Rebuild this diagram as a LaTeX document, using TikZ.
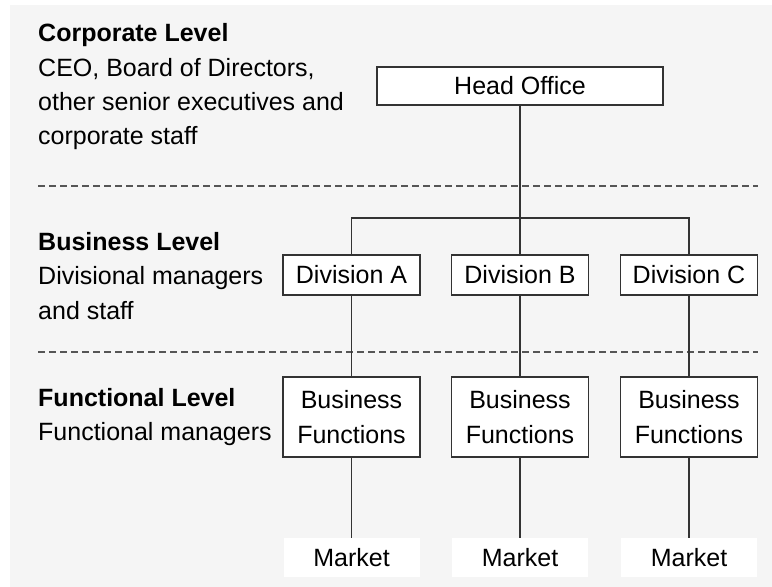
\documentclass[tikz,border=0pt]{standalone}
\usepackage{fontspec}
\setmainfont{Liberation Sans}
\definecolor{bgc}{HTML}{F5F5F5}
\definecolor{linec}{HTML}{333333}
\definecolor{dashc}{HTML}{555555}
\begin{document}
\begin{tikzpicture}[x=1pt,y=-1pt,
  every node/.style={font=\fontsize{25}{34.5}\selectfont, text=black},
  lvl/.style={anchor=base west, inner sep=0pt},
  lvlb/.style={lvl, font=\fontsize{25}{34.5}\selectfont\bfseries},
  box/.style={draw=linec, line width=1.6pt, fill=white, minimum width=137pt, inner sep=0pt, align=center},
  divbox/.style={box, minimum height=40pt},
  fnbox/.style={box, minimum height=80pt},
  mkbox/.style={fill=white, minimum width=136pt, minimum height=39pt, inner sep=0pt},
  conn/.style={draw=linec, line width=1.6pt},
  sep/.style={draw=dashc, line width=1.3pt, dash pattern=on 7pt off 4pt}]
\useasboundingbox (0,0) rectangle (772,587);
\fill[bgc] (10,5) rectangle (772,587);
% separators
\coordinate (s1a) at (38,186); \coordinate (s1b) at (758,186);
\coordinate (s2a) at (38,352); \coordinate (s2b) at (758,352);
\draw[sep] (s1a) -- (s1b);
\draw[sep] (s2a) -- (s2b);
% left texts
\node[lvlb] (c1) at (38,41) {Corporate Level};
\node[lvl] (c2) at (38,76) {CEO, Board of Directors,};
\node[lvl] (c3) at (38,110) {other senior executives and};
\node[lvl] (c4) at (38,144) {corporate staff};
\node[lvlb] (b1) at (38,250) {Business Level};
\node[lvl] (b2) at (38,284) {Divisional managers};
\node[lvl] (b3) at (38,319) {and staff};
\node[lvlb] (f1) at (38,406) {Functional Level};
\node[lvl] (f2) at (38,440) {Functional managers};
% boxes
\node[box, minimum width=286pt, minimum height=38pt] (ho) at (520,86) {Head Office};
\node[divbox] (da) at (351.5,275) {Division A};
\node[divbox] (db) at (520,275) {Division B};
\node[divbox] (dc) at (689,275) {Division C};
\node[fnbox] (fa) at (351.5,417) {Business\\Functions};
\node[fnbox] (fb) at (520,417) {Business\\Functions};
\node[fnbox] (fc) at (689,417) {Business\\Functions};
\node[mkbox] (ma) at (351.5,557.5) {Market};
\node[mkbox] (mb) at (520,557.5) {Market};
\node[mkbox] (mc) at (689,557.5) {Market};
% connectors
\coordinate (bar) at (520,218);
\draw[conn] (ho.south) -- (db.north);
\draw[conn] (da.north) |- (bar) -| (dc.north);
\draw[conn] (da.south) -- (fa.north);
\draw[conn] (db.south) -- (fb.north);
\draw[conn] (dc.south) -- (fc.north);
\draw[conn] (fa.south) -- (ma.north);
\draw[conn] (fb.south) -- (mb.north);
\draw[conn] (fc.south) -- (mc.north);
\end{tikzpicture}
\end{document}
